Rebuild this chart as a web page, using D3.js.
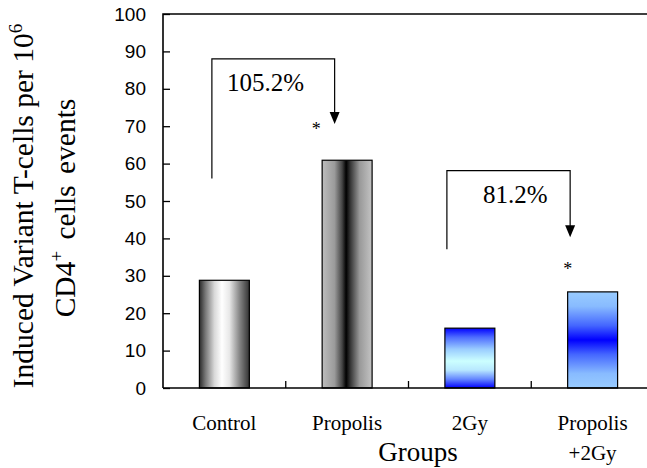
<!DOCTYPE html>
<html><head><meta charset="utf-8">
<script src="https://cdn.jsdelivr.net/npm/d3@7/dist/d3.min.js"></script>
<style>body{margin:0;background:#fff}svg{display:block}</style>
</head><body><div id="chart"></div>
<script>
const categories = ["Control", "Propolis", "2Gy", "Propolis\n+2Gy"];
const values = [28.8, 60.9, 16.0, 25.7];
const yTicks = [0, 10, 20, 30, 40, 50, 60, 70, 80, 90, 100];
const annotations = [
  {from: 0, to: 1, label: "105.2%", top: 88, leftBottom: 56, tip: 70.6},
  {from: 2, to: 3, label: "81.2%", top: 58.1, leftBottom: 37.1, tip: 40.3}
];
const stars = [{cat: 1, y: 70}, {cat: 3, y: 32.6}];

const SERIF = "'Liberation Serif', 'Times New Roman', serif";
const SANS = "'Liberation Sans', Arial, sans-serif";
const W = 647, H = 468;
const svg = d3.select("#chart").append("svg").attr("width", W).attr("height", H);
const L = 163, T = 14, B = 388, R = 654;
const x = d3.scaleBand().domain(d3.range(categories.length)).range([L, R]).paddingInner(0.593).paddingOuter(0.2965);
const y = d3.scaleLinear().domain([0, 100]).range([B, T]);

const defs = svg.append("defs");
function grad(id, vertical, stops) {
  const g = defs.append("linearGradient").attr("id", id)
    .attr("x1", 0).attr("y1", 0).attr("x2", vertical ? 0 : 1).attr("y2", vertical ? 1 : 0);
  stops.forEach(s => g.append("stop").attr("offset", s[0]).attr("stop-color", s[1]));
}
grad("g0", false, [[0, "#2a2a2a"], [0.12, "#777"], [0.3, "#d8d8d8"], [0.45, "#ffffff"], [0.6, "#e8e8e8"], [0.8, "#888"], [1, "#333"]]);
grad("g1", false, [[0, "#bdbdbd"], [0.25, "#9a9a9a"], [0.4, "#444"], [0.48, "#000"], [0.56, "#333"], [0.75, "#999"], [1, "#c4c4c4"]]);
grad("g2", true, [[0, "#0000ff"], [0.15, "#4d6bff"], [0.35, "#99ccff"], [0.55, "#ccffff"], [0.7, "#b8e8ff"], [0.85, "#6688ff"], [1, "#0000ff"]]);
grad("g3", true, [[0, "#99ccff"], [0.15, "#88bbff"], [0.35, "#4466ff"], [0.5, "#0000ff"], [0.65, "#4466ff"], [0.85, "#88bbff"], [1, "#99ccff"]]);

// bars
svg.selectAll("rect.bar").data(values).join("rect").attr("class", "bar")
  .attr("x", (d, i) => x(i)).attr("width", x.bandwidth())
  .attr("y", d => y(d)).attr("height", d => B - y(d))
  .attr("fill", (d, i) => `url(#g${i})`).attr("stroke", "#000").attr("stroke-width", 1.2);

// y axis (ticks inward)
const yAxis = d3.axisRight(y).tickValues(yTicks).tickSize(7).tickFormat("");
svg.append("g").attr("transform", `translate(${L},0)`).call(yAxis)
  .call(g => g.select(".domain").remove())
  .selectAll("line").attr("stroke", "#000").attr("stroke-width", 1.3);
svg.append("g").selectAll("text").data(yTicks).join("text")
  .attr("x", 146).attr("y", d => y(d)).attr("dy", "0.35em")
  .attr("text-anchor", "end").style("font-family", SANS)
  .attr("font-size", 19).text(d => d);

// frame
svg.append("path").attr("d", `M${L},${B}V${T}H${W}`).attr("fill", "none").attr("stroke", "#000").attr("stroke-width", 1.6);
svg.append("path").attr("d", `M${L},${B}H${W}`).attr("fill", "none").attr("stroke", "#000").attr("stroke-width", 1.6);

// x ticks at category boundaries
const step = x.step();
svg.append("g").selectAll("line").data(d3.range(1, categories.length)).join("line")
  .attr("x1", i => L + i * step).attr("x2", i => L + i * step)
  .attr("y1", B).attr("y2", B - 7).attr("stroke", "#000").attr("stroke-width", 1.3);

// x labels
const xl = svg.append("g").style("font-family", SERIF).attr("font-size", 21).attr("text-anchor", "middle");
categories.forEach((c, i) => {
  const cx = x(i) + x.bandwidth() / 2;
  const t = xl.append("text").attr("x", cx).attr("y", 430);
  c.split("\n").forEach((ln, k) => t.append("tspan").attr("x", cx).attr("dy", k ? 30 : 0).text(ln));
});
svg.append("text").attr("x", 418).attr("y", 461).attr("text-anchor", "middle")
  .style("font-family", SERIF).attr("font-size", 27).text("Groups");

// y title
const yt = svg.append("g").style("font-family", SERIF).attr("font-size", 29.5).attr("text-anchor", "middle");
const t1 = yt.append("text").attr("transform", "translate(33,206) rotate(-90)");
t1.append("tspan").text("Induced Variant T-cells per 10");
t1.append("tspan").attr("dy", -11).attr("font-size", 19).text("6");
const t2 = yt.append("text").attr("transform", "translate(75,208) rotate(-90)").style("word-spacing", "4px");
t2.append("tspan").text("CD4");
t2.append("tspan").attr("dy", -12).attr("font-size", 19).text("+");
t2.append("tspan").attr("dy", 12).text(" cells events");

// annotations
const ann = svg.append("g");
annotations.forEach((a, k) => {
  const xa = x(a.from) + (k === 0 ? 0.25 : 0.04) * x.bandwidth();
  const xb = x(a.to) + (k === 0 ? 0.25 : 0.05) * x.bandwidth();
  ann.append("path").attr("d", `M${xa},${y(a.leftBottom)}V${y(a.top)}H${xb}V${y(a.tip) - 11}`)
    .attr("fill", "none").attr("stroke", "#000").attr("stroke-width", 1.2);
  ann.append("path").attr("d", `M${xb - 5},${y(a.tip) - 12}L${xb + 5},${y(a.tip) - 12}L${xb},${y(a.tip)}Z`).attr("fill", "#000");
  ann.append("text").attr("x", xa + (k === 0 ? 15 : 36)).attr("y", y(a.top) + 32)
    .style("font-family", SERIF).attr("font-size", 25).text(a.label);
});
const starDx = [-6, 0];
svg.append("g").selectAll("text").data(stars).join("text")
  .attr("x", (d, i) => x(d.cat) + starDx[i]).attr("y", d => y(d.y) + 9).attr("text-anchor", "middle")
  .style("font-family", SERIF).attr("font-size", 18).attr("fill", "#000").text("*");
</script></body></html>
